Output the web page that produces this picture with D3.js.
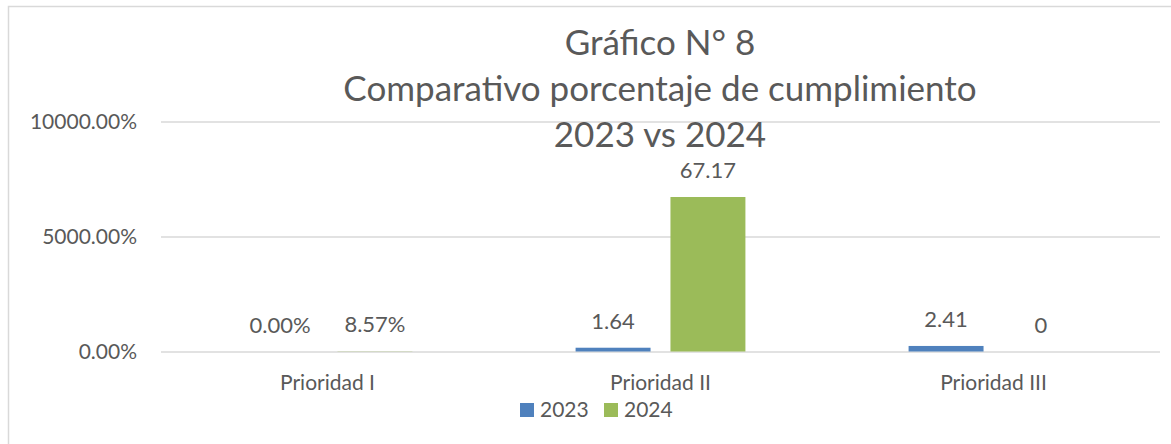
<!DOCTYPE html>
<html>
<head>
<meta charset="utf-8">
<script src="https://cdn.jsdelivr.net/npm/d3@7"></script>
<style>
  body { margin: 0; background: #fff; }
  text { font-family: Lato, "Open Sans", sans-serif; fill: #595959; }
</style>
</head>
<body>
<div id="chart"></div>
<script>
// data
const categories = ["Prioridad I", "Prioridad II", "Prioridad III"];
const series = ["2023", "2024"];
const values2023 = [0, 1.64, 2.41];
const values2024 = [0.0857, 67.17, 0];
const labels2023 = ["0.00%", "1.64", "2.41"];
const labels2024 = ["8.57%", "67.17", "0"];
const yTicks = [0, 50, 100];
const titleLines = ["Gráfico N° 8", "Comparativo porcentaje de cumplimiento", "2023 vs 2024"];
const colors = { "2023": "#4f81bd", "2024": "#9bbb59" };

const width = 1171;
const height = 444;
const margin = { top: 121.5, right: 11, bottom: 92.5, left: 161 };

const svg = d3.select("#chart")
    .append("svg")
    .attr("width", width)
    .attr("height", height);

// chart frame
svg.append("rect")
    .attr("x", 8.5).attr("y", 6.5)
    .attr("width", width + 10).attr("height", height + 10)
    .attr("fill", "none")
    .attr("stroke", "#d9d9d9")
    .attr("stroke-width", 1.5);

const x = d3.scaleBand()
    .domain(categories)
    .range([margin.left, width - margin.right]);

const xInner = d3.scaleBand()
    .domain(series)
    .range([0, x.bandwidth()])
    .paddingInner(0.21)
    .paddingOuter(0.86);

const y = d3.scaleLinear()
    .domain([0, 100])
    .range([height - margin.bottom, margin.top]);

// grid + y labels
const yAxis = d3.axisLeft(y)
    .tickValues(yTicks)
    .tickSize(-(width - margin.left - margin.right))
    .tickPadding(24)
    .tickFormat(d => (d * 100).toFixed(2) + "%");

const gy = svg.append("g")
    .attr("transform", "translate(" + margin.left + ",0)")
    .call(yAxis);
gy.select(".domain").remove();
gy.selectAll(".tick line").attr("stroke", "#d9d9d9").attr("stroke-width", 1.5);
gy.selectAll(".tick text").style("font-size", "21px").attr("fill", "#595959");

// bars
const rows = categories.map((c, i) => ({
    cat: c,
    items: [
        { s: "2023", v: values2023[i], label: labels2023[i] },
        { s: "2024", v: values2024[i], label: labels2024[i] }
    ]
}));

const groups = svg.selectAll(".grp")
    .data(rows)
    .enter().append("g")
    .attr("class", "grp")
    .attr("transform", d => "translate(" + x(d.cat) + ",0)");

groups.selectAll("rect")
    .data(d => d.items)
    .enter().append("rect")
    .attr("x", d => xInner(d.s))
    .attr("y", d => y(d.v))
    .attr("width", xInner.bandwidth())
    .attr("height", d => y(0) - y(d.v))
    .attr("fill", d => colors[d.s]);

groups.selectAll(".lbl")
    .data(d => d.items)
    .enter().append("text")
    .attr("class", "lbl")
    .attr("x", d => xInner(d.s) + xInner.bandwidth() / 2)
    .attr("y", d => y(d.v) - 19)
    .attr("text-anchor", "middle")
    .style("font-size", "22px")
    .text(d => d.label);

// x labels
const xAxis = d3.axisBottom(x).tickSize(0).tickPadding(24);
const gx = svg.append("g")
    .attr("transform", "translate(0," + y(0) + ")")
    .call(xAxis);
gx.select(".domain").remove();
gx.selectAll(".tick text").style("font-size", "21px").attr("fill", "#595959");

// title
svg.append("g").selectAll("text")
    .data(titleLines)
    .enter().append("text")
    .attr("x", 660)
    .attr("y", (d, i) => 55 + i * 46)
    .attr("text-anchor", "middle")
    .style("font-size", "35px")
    .text(d => d);

// legend
const legend = svg.append("g").attr("transform", "translate(520,403)");
const li = legend.selectAll("g")
    .data(series)
    .enter().append("g")
    .attr("transform", (d, i) => "translate(" + (i * 84) + ",0)");
li.append("rect")
    .attr("width", 14).attr("height", 14)
    .attr("fill", d => colors[d]);
li.append("text")
    .attr("x", 20).attr("y", 14)
    .style("font-size", "21px")
    .text(d => d);
</script>
</body>
</html>
